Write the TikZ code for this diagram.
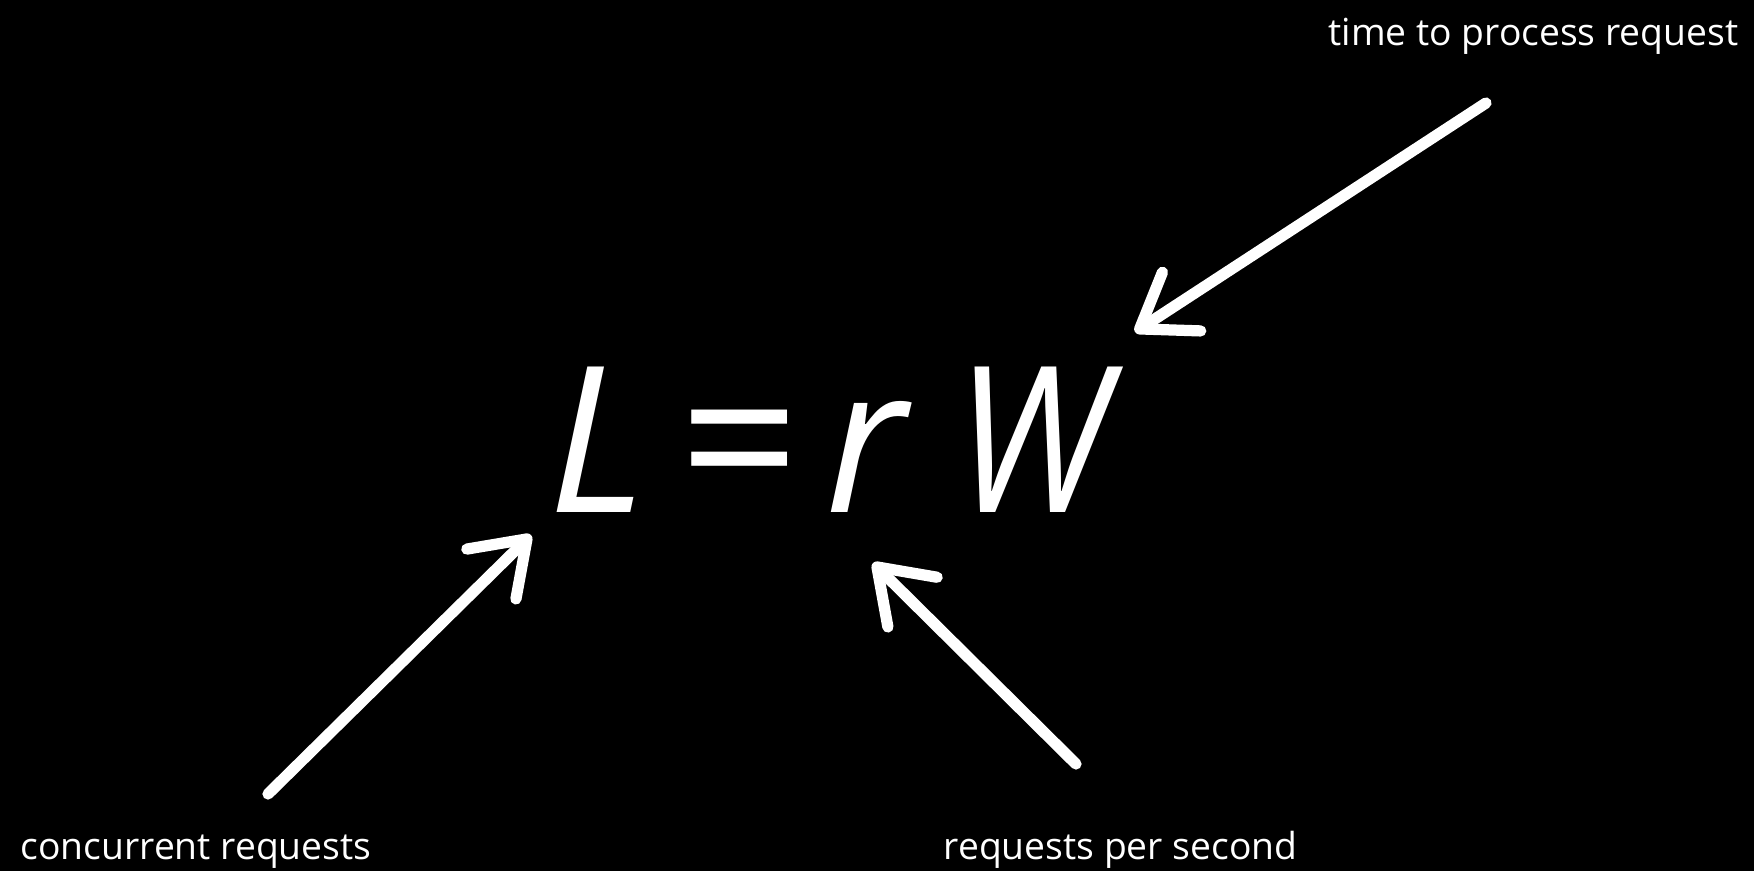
\documentclass[tikz,border=0pt]{standalone}
\usepackage{fontspec}
\setmainfont{Open Sans}
\usetikzlibrary{arrows.meta, positioning}
\tikzset{
  chalk/.style={draw=white, line width=3.2pt, line cap=round, line join=round,
    -{Straight Barb[length=5mm, width=7mm, line cap=round, line join=round]}},
  term/.style={text=white, inner sep=0pt, anchor=base, font=\fontsize{58}{60}\selectfont\itshape},
  caption/.style={text=white, inner sep=0pt, font=\fontsize{10.6}{12}\selectfont}
}
\begin{document}
\begin{tikzpicture}
    \fill[black] (0,0) rectangle (17.54,8.71);
    \useasboundingbox (0,0) rectangle (17.54,8.71);

    % the formula
    \node (L) [term] at (5.97,3.59) {L};
    \node (eq) [term, font=\fontsize{60}{60}\selectfont] at (7.40,3.59) {=};
    \node (r) [term] at (8.66,3.59) {r};
    \node (W) [term, xscale=0.88] at (10.32,3.59) {W};

    % captions
    \node (timeLabel) [caption, anchor=base east] at (17.39,8.26) {time to process request};
    \node (concLabel) [caption, anchor=base west] at (0.20,0.12) {concurrent requests};
    \node (rateLabel) [caption, anchor=base west] at (9.43,0.12) {requests per second};

    \coordinate (timeTail) at (14.86,7.68);
    \coordinate (timeTip) at (11.35,5.39);
    \coordinate (concTail) at (2.68,0.77);
    \coordinate (concTip) at (5.31,3.36);
    \coordinate (rateTail) at (10.76,1.07);
    \coordinate (rateTip) at (8.73,3.08);

    \foreach \i/\j in {timeTail/timeTip, concTail/concTip, rateTail/rateTip} {
        \draw [chalk] (\i) -- (\j);
    }
\end{tikzpicture}
\end{document}
